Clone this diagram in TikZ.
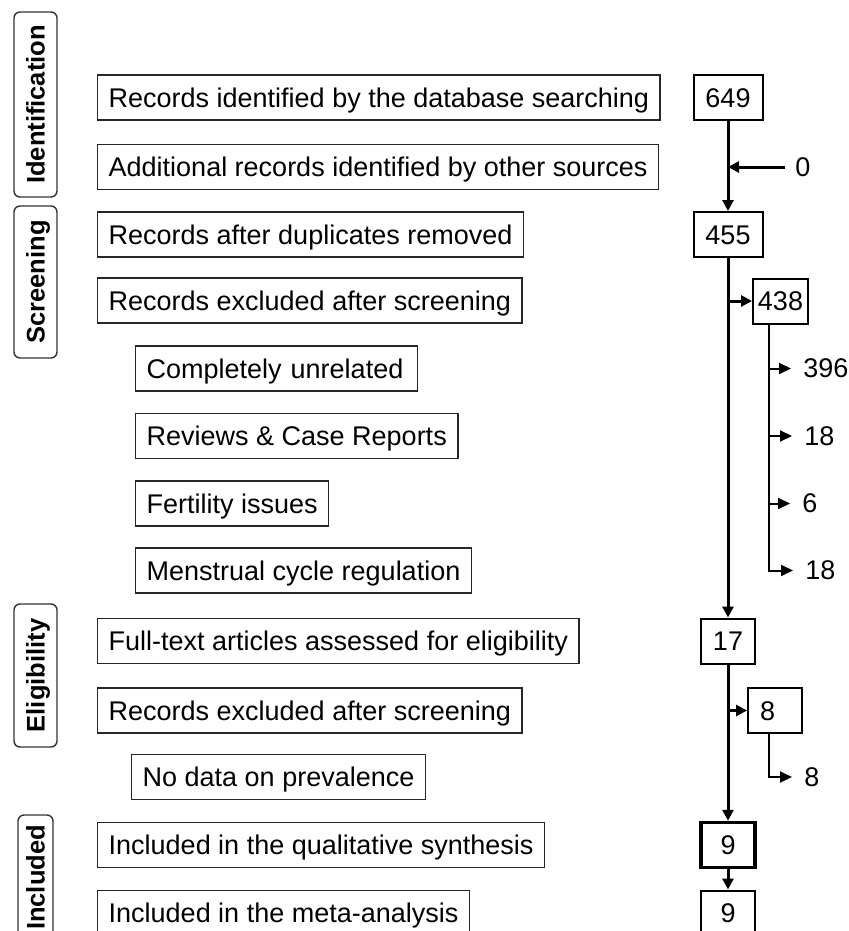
\documentclass[tikz,border=0pt]{standalone}
\usepackage{fontspec}
\setmainfont{Liberation Sans}
\usetikzlibrary{arrows.meta,calc}

\begin{document}
\begin{tikzpicture}[x=0.5pt,y=-0.5pt,
  font=\fontsize{13.5}{16}\selectfont,
  rowbox/.style={draw=black!85,line width=0.7pt,anchor=west,minimum height=22.5pt,
    inner xsep=5.5pt,inner ysep=0pt,text height=9.6pt,text depth=0pt},
  stagebox/.style={draw=black!80,line width=0.7pt,rounded corners=3pt,rotate=90,
    minimum height=21.5pt,inner sep=0pt,text height=9pt,text depth=0pt,
    font=\fontsize{12.75}{15}\selectfont\bfseries},
  numbox/.style={draw,line width=1pt,minimum width=27pt,minimum height=22.5pt,
    inner sep=0pt,text height=9.6pt,text depth=0pt},
  count/.style={anchor=west,inner sep=0pt},
  flow/.style={line width=1.5pt,-{Triangle[length=5.5pt,width=5.5pt]}},
  side/.style={line width=1pt,-{Triangle[length=6pt,width=5.5pt]},shorten >=6pt}]

\useasboundingbox (0,0) rectangle (849,931);

% stages
\node[stagebox,minimum width=92.5pt] (sid) at (35.5,104.5) {Identification};
\node[stagebox,minimum width=76pt] (sscr) at (35.5,282) {Screening};
\node[stagebox,minimum width=71.5pt] (seli) at (35.5,675.5) {Eligibility};
\node[stagebox,minimum width=62.5pt,minimum height=17.5pt] (sinc) at (35.5,877.5) {Included};

% left column
\node[rowbox] (db) at (97,97.5) {Records identified by the database searching};
\node[rowbox] (other) at (97,167) {Additional records identified by other sources};
\node[rowbox] (dedup) at (97,234.5) {Records after duplicates removed};
\node[rowbox] (excl) at (97,300.5) {Records excluded after screening};
\node[rowbox,text width=130pt,align=left] (unrel) at (135,368.5) {Completely unrelated};
\node[rowbox] (review) at (135,436) {Reviews \& Case Reports};
\node[rowbox] (fert) at (135,503.5) {Fertility issues};
\node[rowbox] (mens) at (135,570.5) {Menstrual cycle regulation};
\node[rowbox] (full) at (97,641) {Full-text articles assessed for eligibility};
\node[rowbox] (exclfull) at (97,710.5) {Records excluded after screening};
\node[rowbox] (nodata) at (131,777) {No data on prevalence};
\node[rowbox] (qual) at (97,845) {Included in the qualitative synthesis};
\node[rowbox] (meta) at (97,913) {Included in the meta-analysis};

% right column
\node[numbox,minimum width=34.5pt] (n649) at (728,97.5) {649};
\node[numbox,minimum width=34.5pt] (n455) at (728,234.5) {455};
\node[numbox,minimum width=27.5pt] (n438) at (780.5,301) {438};
\node[numbox] (n17) at (728,641) {17};
\node[numbox,text width=15pt,inner xsep=6pt,align=left] (n8) at (775,710.5) {8};
\node[numbox,line width=1.75pt] (n9a) at (728,845) {9};
\node[numbox] (n9b) at (728,913) {9};

\node[count] (c0) at (795,167) {0};
\node[count] (c396) at (803,368.5) {396};
\node[count] (c18a) at (804,436) {18};
\node[count] (c6) at (802,503.5) {6};
\node[count] (c18b) at (805,570.5) {18};
\node[count] (c8) at (804,777) {8};

\coordinate (b438) at ([xshift=-5.75pt]n438.south);
\coordinate (b8) at ([xshift=-3pt]n8.south);

% main flow
\draw[flow] (n649.south) -- (n455.north);
\draw[flow,shorten <=5pt] (c0.west) -- (c0.west -| n649.south);
\draw[flow] (n455.south) -- (n17.north);
\draw[flow] (n455.south |- n438.west) -- (n438.west);
\draw[flow] (n17.south |- n8.west) -- (n8.west);
\draw[flow] (n17.south) -- (n9a.north);
\draw[flow] (n9a.south) -- (n9b.north);

% exclusions
\draw[side] (b438) |- (c18b.west);
\foreach \c in {c396,c18a,c6}
  \draw[side] (\c.west -| b438) -- (\c.west);
\draw[side] (b8) |- (c8.west);
\end{tikzpicture}
\end{document}
